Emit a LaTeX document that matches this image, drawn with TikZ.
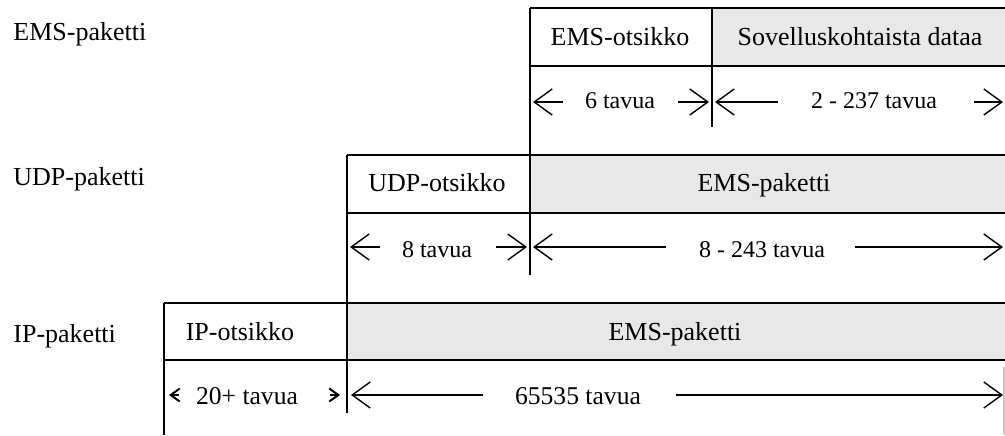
\documentclass[tikz,border=0pt]{standalone}
\usepackage{fontspec}
\setmainfont{Liberation Serif}
\usetikzlibrary{arrows.meta}
\definecolor{cellgray}{RGB}{232,232,232}
\definecolor{faintgray}{RGB}{200,200,200}
\begin{document}
\begin{tikzpicture}[x=0.5pt,y=-0.5pt,
  rowlabel/.style={font=\fontsize{13}{15}\selectfont, inner sep=0pt, anchor=base west},
  celltext/.style={font=\fontsize{13}{15}\selectfont, inner sep=0pt, anchor=base},
  meastext/.style={font=\fontsize{12}{14}\selectfont, inner sep=0pt, anchor=base},
  iptext/.style={font=\fontsize{12.8}{14}\selectfont, inner sep=0pt, anchor=base},
  frame/.style={line width=1pt},
  vline/.style={line width=0.8pt},
  arr/.style={line width=0.7pt, -{Straight Barb[length=9pt,width=13pt]}},
  smallarr/.style={line width=1pt, -{Straight Barb[length=4.5pt,width=6.5pt]}}]
\useasboundingbox (0,0) rectangle (1005,435);

% gray fills
\fill[cellgray] (712,8) rectangle (1005,66);
\fill[cellgray] (530,155) rectangle (1005,213);
\fill[cellgray] (347,303) rectangle (1005,360);

% horizontal lines
\draw[frame] (530,8) -- (1005,8);
\draw[frame] (530,66) -- (1005,66);
\draw[frame] (347,155) -- (1005,155);
\draw[frame] (347,213) -- (1005,213);
\draw[frame] (164,303) -- (1005,303);
\draw[frame] (164,360) -- (1005,360);

% vertical lines
\draw[vline] (530,8) -- (530,275);
\draw[vline] (712,8) -- (712,127);
\draw[vline] (347,155) -- (347,413);
\draw[vline] (164,303) -- (164,435);
\draw[line width=0.6pt, faintgray] (1004,367) -- (1004,435);

% row labels
\node[rowlabel] (lems) at (13,40) {EMS-paketti};
\node[rowlabel] (ludp) at (13,185) {UDP-paketti};
\node[rowlabel] (lip) at (13,342) {IP-paketti};

% cell texts
\node[celltext] (emshdr) at (620,45) {EMS-otsikko};
\node[celltext] (emsdata) at (860,45) {Sovelluskohtaista dataa};
\node[celltext] (udphdr) at (437,191) {UDP-otsikko};
\node[celltext] (udpdata) at (764,191) {EMS-paketti};
\node[celltext] (iphdr) at (240,340) {IP-otsikko};
\node[celltext] (ipdata) at (675,340) {EMS-paketti};

% measure texts
\node[meastext] (m6) at (620,108) {6 tavua};
\node[meastext] (m237) at (874,108) {2 - 237 tavua};
\node[meastext] (m8) at (437,257) {8 tavua};
\node[meastext] (m243) at (762,257) {8 - 243 tavua};
\node[iptext] (m20) at (247,404) {20+ tavua};
\node[iptext] (m65535) at (578,404) {65535 tavua};

% arrow coordinates
\coordinate (a1s) at (563,102); \coordinate (a1e) at (533,102);
\coordinate (a2s) at (678,102); \coordinate (a2e) at (709,102);
\coordinate (a3s) at (778,102); \coordinate (a3e) at (715,102);
\coordinate (a4s) at (974,102); \coordinate (a4e) at (1003,102);

\coordinate (b1s) at (380,247); \coordinate (b1e) at (350,247);
\coordinate (b2s) at (496,247); \coordinate (b2e) at (527,247);
\coordinate (b3s) at (666,247); \coordinate (b3e) at (533,247);
\coordinate (b4s) at (855,247); \coordinate (b4e) at (1003,247);

\coordinate (c1s) at (179,395); \coordinate (c1e) at (169,395);
\coordinate (c2s) at (330,395); \coordinate (c2e) at (340,395);
\coordinate (c3s) at (483,395); \coordinate (c3e) at (351,395);
\coordinate (c4s) at (676,395); \coordinate (c4e) at (1003,395);

\draw[arr] (a1s) -- (a1e);
\draw[arr] (a2s) -- (a2e);
\draw[arr] (a3s) -- (a3e);
\draw[arr] (a4s) -- (a4e);
\draw[arr] (b1s) -- (b1e);
\draw[arr] (b2s) -- (b2e);
\draw[arr] (b3s) -- (b3e);
\draw[arr] (b4s) -- (b4e);
\draw[smallarr] (c1s) -- (c1e);
\draw[smallarr] (c2s) -- (c2e);
\draw[arr] (c3s) -- (c3e);
\draw[arr] (c4s) -- (c4e);
\end{tikzpicture}
\end{document}
